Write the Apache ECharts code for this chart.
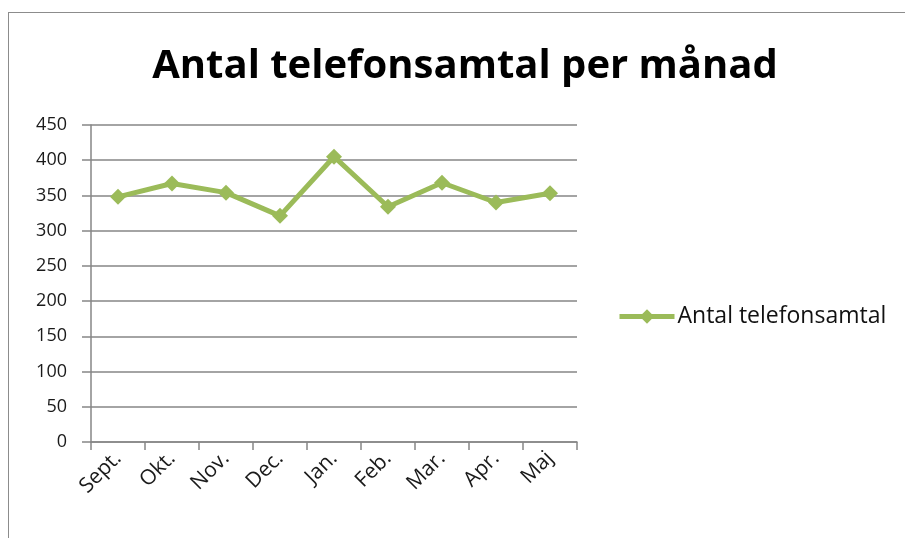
<!DOCTYPE html>
<html>
<head>
<meta charset="utf-8">
<script src="https://cdn.jsdelivr.net/npm/echarts@6/dist/echarts.min.js"></script>
<style>
  html, body { margin: 0; padding: 0; background: #fff; }
  #frame {
    position: absolute; left: 8px; top: 12px; width: 905px; height: 540px;
    border: 1px solid #8c8c8c; box-sizing: border-box;
  }
  #chart { position: absolute; left: 0; top: 0; width: 905px; height: 538px; }
</style>
</head>
<body>
<div id="frame"></div>
<div id="chart"></div>
<script>
const months = ['Sept.', 'Okt.', 'Nov.', 'Dec.', 'Jan.', 'Feb.', 'Mar.', 'Apr.', 'Maj'];
const calls = [348, 367, 354, 321, 405, 334, 368, 340, 353];
const seriesName = 'Antal telefonsamtal';

const chart = echarts.init(document.getElementById('chart'));
const font = '"Open Sans", Lato, sans-serif';
chart.setOption({
  animation: false,
  title: {
    text: 'Antal telefonsamtal per månad',
    left: 460, top: 42, textAlign: 'center',
    textStyle: { fontFamily: font, fontSize: 40, fontWeight: 'bold', color: '#000' }
  },
  legend: {
    left: 617, top: 305, padding: 0,
    itemWidth: 55, itemHeight: 18, itemGap: 4,
    data: [{ name: seriesName }],
    lineStyle: { width: 5 },
    textStyle: { fontFamily: font, fontSize: 23, color: '#111', padding: [0, 0, 0, -2] }
  },
  grid: { left: 91, top: 125, width: 486, height: 317, containLabel: false },
  xAxis: {
    type: 'category',
    data: months,
    boundaryGap: true,
    axisLine: { lineStyle: { color: '#868686', width: 1.5 } },
    axisTick: { show: true, length: 8, lineStyle: { color: '#868686', width: 1.5 } },
    axisLabel: { rotate: 45, fontFamily: font, fontSize: 21, color: '#1a1a1a', margin: 13, interval: 0 }
  },
  yAxis: {
    type: 'value',
    min: 0, max: 450, interval: 50,
    axisLine: { show: true, lineStyle: { color: '#868686', width: 1.5 } },
    axisTick: { show: true, length: 9, lineStyle: { color: '#868686', width: 1.5 } },
    splitLine: { lineStyle: { color: '#868686', width: 1.5 } },
    axisLabel: { fontFamily: font, fontSize: 18, color: '#1a1a1a', margin: 24 }
  },
  series: [{
    name: seriesName,
    type: 'line',
    data: calls,
    symbol: 'diamond',
    symbolSize: 16,
    itemStyle: { color: '#9bbb59' },
    lineStyle: { color: '#9bbb59', width: 5 }
  }]
});
</script>
</body>
</html>
